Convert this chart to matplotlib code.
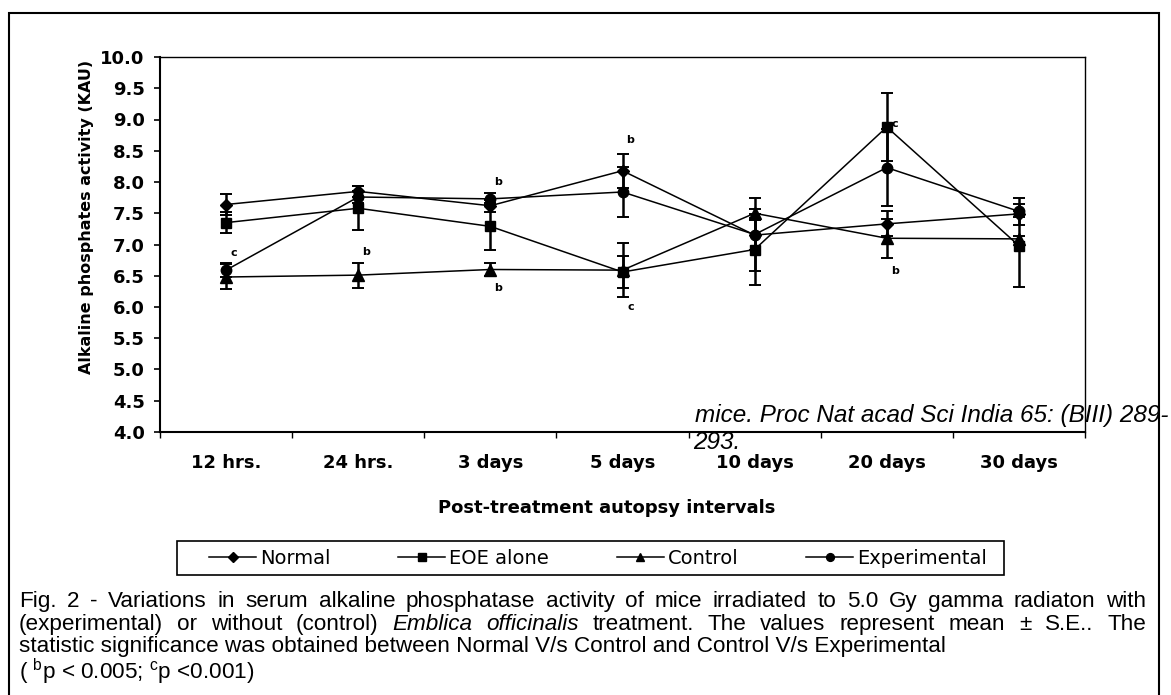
import numpy as np
import matplotlib
matplotlib.use('Agg')
import matplotlib.pyplot as plt
from matplotlib.patches import Rectangle

# data (mean, S.E.)
categories = ['12 hrs.', '24 hrs.', '3 days', '5 days', '10 days', '20 days', '30 days']
normal = [7.64, 7.85, 7.62, 8.18, 7.15, 7.33, 7.49]
normal_se = [0.17, 0.09, 0.10, 0.27, 0.24, 0.20, 0.05]
eoe = [7.35, 7.58, 7.29, 6.56, 6.92, 8.88, 6.98]
eoe_se = [0.17, 0.35, 0.38, 0.26, 0.56, 0.55, 0.66]
control = [6.48, 6.51, 6.60, 6.59, 7.50, 7.10, 7.09]
control_se = [0.20, 0.20, 0.10, 0.43, 0.07, 0.31, 0.05]
experimental = [6.59, 7.76, 7.73, 7.84, 7.16, 8.23, 7.53]
experimental_se = [0.11, 0.10, 0.10, 0.40, 0.59, 0.62, 0.22]

# significance letters: (letter, category index, value)
sig_labels = [('c', 0, 6.86), ('b', 1, 6.88), ('b', 2, 8.00), ('b', 2, 6.30),
              ('b', 3, 8.67), ('c', 3, 6.00), ('c', 5, 8.93), ('b', 5, 6.58)]

W, H = 1171, 695


def fx(p):
    return p / W


def fy(p):
    return 1 - p / H


fig = plt.figure(figsize=(W / 100, H / 100), dpi=100)
ax = fig.add_axes([fx(160), fy(432), fx(1085) - fx(160), fy(57) - fy(432)])

xs = np.arange(len(categories))
series = [
    (normal, normal_se, 'D', 6.5, 'Normal'),
    (eoe, eoe_se, 's', 7.5, 'EOE alone'),
    (control, control_se, '^', 8.0, 'Control'),
    (experimental, experimental_se, 'o', 7.5, 'Experimental'),
]
handles = []
for vals, se, mk, ms, name in series:
    ax.errorbar(xs, vals, yerr=se, fmt='none', ecolor='black', elinewidth=1.8,
                capsize=4.5, capthick=1.4, zorder=2)
    line, = ax.plot(xs, vals, color='black', lw=1.1, marker=mk, ms=ms,
                    mfc='black', mec='black', label=name, zorder=3)
    handles.append(line)

for s, i, v in sig_labels:
    ax.text(i + 0.06, v, s, ha='center', va='center', fontsize=8, fontweight='bold')

ax.set_xlim(-0.5, 6.5)
ax.set_ylim(4, 10)
ax.set_yticks(np.arange(4, 10.01, 0.5))
ax.set_yticklabels(['%.1f' % v for v in np.arange(4, 10.01, 0.5)],
                   fontsize=13, fontweight='bold')
ax.tick_params(axis='y', length=4, width=1.2, pad=7)
ax.set_xticks(np.arange(-0.5, 7.0, 1.0))
ax.set_xticklabels([])
ax.tick_params(axis='x', which='major', length=4, width=1.0)
ax.set_xticks(xs, minor=True)
ax.set_xticklabels(categories, minor=True, fontsize=13, fontweight='bold')
ax.tick_params(axis='x', which='minor', length=0, pad=16)

for side in ['left', 'bottom']:
    ax.spines[side].set_linewidth(1.5)
for side in ['top', 'right']:
    ax.spines[side].set_linewidth(1.0)

ax.set_xlabel('Post-treatment autopsy intervals', fontsize=13, fontweight='bold')
ax.xaxis.set_label_coords(0.483, -0.178)
ax.set_ylabel('Alkaline phosphates activity (KAU)', fontsize=11.5, fontweight='bold')
ax.yaxis.set_label_coords(-0.071, 0.573)

# legend without its own frame; the box is drawn separately to match the reference
leg = fig.legend(handles=handles, loc='center', bbox_to_anchor=(fx(598), fy(558)),
                 ncol=4, frameon=False, fontsize=14, handlelength=2.4,
                 handletextpad=0.2, columnspacing=3.5, markerscale=0.75)
fig.add_artist(Rectangle((fx(177), fy(575)), fx(1004) - fx(177), fy(541) - fy(575),
                         transform=fig.transFigure, fill=False, ec='black', lw=1.2))

# outer frame of the figure box
fig.add_artist(Rectangle((fx(9), -0.05), fx(1159) - fx(9), fy(13) + 0.05,
                         transform=fig.transFigure, fill=False, ec='black', lw=1.5))

# stray reference text overlapping the chart
fig.text(fx(695), fy(422), 'mice. Proc Nat acad Sci India 65: (BIII) 289-',
         family='Liberation Sans', style='italic', fontsize=17.5, va='baseline', zorder=5)
fig.text(fx(693), fy(449), '293.', family='Liberation Sans', style='italic',
         fontsize=17.5, va='baseline', zorder=-1)

# caption, first two lines justified
plt.rcParams['mathtext.fontset'] = 'custom'
plt.rcParams['mathtext.rm'] = 'Liberation Sans'
cap_fs = 16.2
renderer = fig.canvas.get_renderer()


def justified(words, x0, x1, base):
    texts = [fig.text(0, fy(base), w, fontsize=cap_fs, family='Liberation Sans',
                      style=st, va='baseline', ha='left') for w, st in words]
    widths = [t.get_window_extent(renderer).width for t in texts]
    gap = ((x1 - x0) - sum(widths)) / (len(texts) - 1)
    pos = x0
    for t, w in zip(texts, widths):
        t.set_x(fx(pos))
        pos += w + gap


line1 = 'Fig. 2 - Variations in serum alkaline phosphatase activity of mice irradiated to 5.0 Gy gamma radiaton with'
justified([(w, 'normal') for w in line1.split()], 19, 1146, 607)
line2 = [(w, 'normal') for w in '(experimental) or without (control)'.split()] + \
        [('Emblica', 'italic'), ('officinalis', 'italic')] + \
        [(w, 'normal') for w in 'treatment. The values represent mean ± S.E.. The'.split()]
justified(line2, 19, 1146, 630)
fig.text(fx(19), fy(652), 'statistic significance was obtained between Normal V/s Control and Control V/s Experimental',
         fontsize=cap_fs, family='Liberation Sans', va='baseline')
fig.text(fx(19), fy(679), r'( $^{\mathrm{b}}$p < 0.005; $^{\mathrm{c}}$p <0.001)',
         fontsize=cap_fs, family='Liberation Sans', va='baseline')

fig.savefig('out.png', dpi=100)
